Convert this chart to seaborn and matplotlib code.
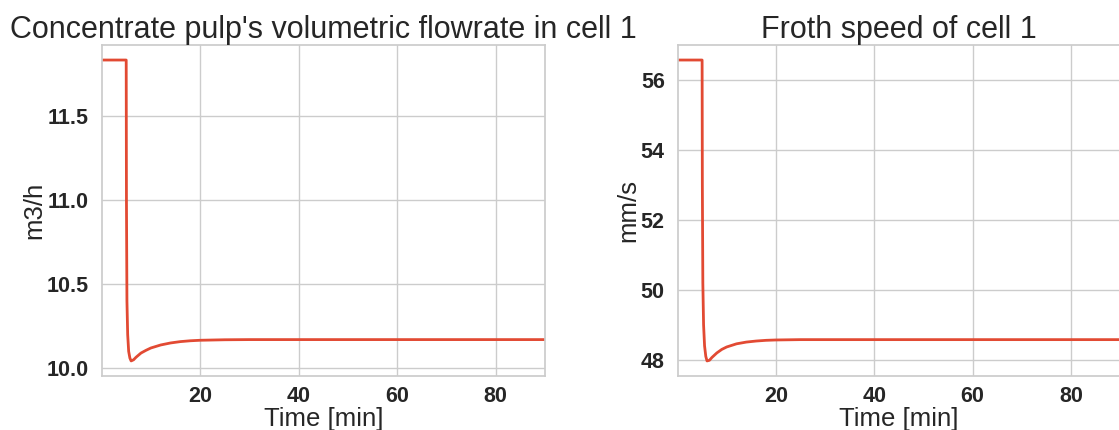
import matplotlib
matplotlib.use("Agg")
import matplotlib.pyplot as plt
import numpy as np
import pandas as pd
import seaborn as sns

# Simulation time [min]
time_min = [0.1, 5.0, 5.05, 5.15, 5.3, 5.5, 5.75, 6.0, 6.5, 7.0, 8.0, 9.0,
            10.0, 12.0, 14.0, 16.0, 18.0, 20.0, 25.0, 30.0, 40.0, 90.0]

# Concentrate pulp volumetric flowrate, cell 1 [m3/h]
flow_cell1 = [11.833, 11.833, 11.00, 10.40, 10.20, 10.10, 10.06, 10.043,
              10.050, 10.065, 10.090, 10.106, 10.120, 10.138, 10.150,
              10.158, 10.163, 10.166, 10.169, 10.170, 10.170, 10.170]

# Froth speed, cell 1 [mm/s]
froth_cell1 = [56.58, 56.58, 53.00, 50.20, 49.00, 48.40, 48.10, 47.97,
               47.99, 48.07, 48.20, 48.30, 48.37, 48.46, 48.51, 48.54,
               48.56, 48.57, 48.58, 48.58, 48.58, 48.58]

titles = ["Concentrate pulp's volumetric flowrate in cell 1",
          "Froth speed of cell 1"]
ylabels = ["m3/h", "mm/s"]

sns.set_theme(style="whitegrid")
plt.rcParams["font.family"] = ["Liberation Sans", "DejaVu Sans"]

df = pd.DataFrame({"time": time_min, "flow": flow_cell1, "froth": froth_cell1})

fig = plt.figure(figsize=(11.19, 4.30), dpi=100)
ax1 = fig.add_axes([0.0912, 0.1256, 0.3959, 0.7698])
ax2 = fig.add_axes([0.6059, 0.1256, 0.3952, 0.7698])

line_color = "#E24A33"
text_color = "#262626"
tick_size = 15.5
for ax, col, title, ylab in zip([ax1, ax2], ["flow", "froth"], titles, ylabels):
    sns.lineplot(data=df, x="time", y=col, ax=ax, color=line_color, linewidth=2.0)
    ax.set_xlim(df["time"].min(), df["time"].max())
    ax.set_title(title, fontsize=22, color=text_color, pad=5)
    ax.set_xlabel("Time [min]", fontsize=18.5, color=text_color, labelpad=0)
    ax.set_ylabel(ylab, fontsize=18.5, color=text_color, labelpad=0)
    ax.set_xticks([20, 40, 60, 80])
    ax.tick_params(axis="x", pad=1.5)
    ax.tick_params(axis="y", pad=3.5)
    for lbl in ax.get_xticklabels():
        lbl.set_fontweight("bold")
        lbl.set_fontsize(tick_size)
        lbl.set_color(text_color)

ax1.set_yticks([10.0, 10.5, 11.0, 11.5])
ax1.set_yticklabels(["10.0", "10.5", "11.0", "11.5"], fontweight="bold",
                    fontsize=tick_size, color=text_color)
ax2.set_yticks([48, 50, 52, 54, 56])
ax2.set_yticklabels(["48", "50", "52", "54", "56"], fontweight="bold",
                    fontsize=tick_size, color=text_color)

fig.savefig("out.png", dpi=100)
